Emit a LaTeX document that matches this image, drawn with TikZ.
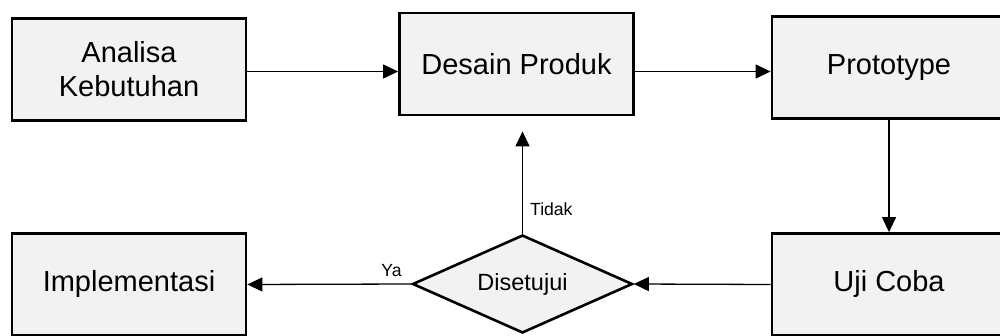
\documentclass[tikz,border=0pt]{standalone}
\usepackage{fontspec}
\setmainfont{Liberation Sans}
\usetikzlibrary{arrows.meta,shapes.geometric,calc}

\definecolor{isibox}{HTML}{F2F2F2}

\begin{document}
\begin{tikzpicture}[x=1pt,y=-1pt,->,>={Triangle[length=15pt,width=14pt]},line width=1.3pt,
  proses/.style={draw,fill=isibox,line width=2.8pt,minimum width=234pt,minimum height=102pt,
    inner sep=0pt,align=center,font=\fontsize{29}{34}\selectfont},
  putusan/.style={draw,fill=isibox,diamond,aspect=2.2,line width=2.6pt,minimum width=220pt,
    minimum height=98pt,inner sep=0pt,font=\fontsize{23.5}{28}\selectfont},
  lbl/.style={font=\fontsize{17.6}{20}\selectfont,inner sep=7pt}]
  \useasboundingbox (0,0) rectangle (1000,336);

  % Kotak (baris atas dan bawah)
  \node[proses] (analisa) at (129,69.5)  {Analisa\\Kebutuhan};
  \node[proses] (desain)  at (516.5,64)  {Desain Produk};
  \node[proses] (proto)   at (889,67.5)  {Prototype};
  \node[proses] (uji)     at (889,284.5) {Uji Coba};
  \node[proses] (impl)    at (129,284.5) {Implementasi};

  % Keputusan
  \node[putusan] (setuju) at (522.5,284) {Disetujui};

  % Alur baris atas
  \coordinate (atas) at (0,71.5);
  \draw (analisa.east |- atas) -- (desain.west |- atas);
  \draw (desain.east |- atas) -- (proto.west |- atas);

  % Prototype -> Uji Coba -> Disetujui
  \draw (proto.south) -- (uji.north);
  \draw (uji.west) -- (setuju.east);

  % Ya / Tidak
  \draw (setuju.west) -- node[lbl,pos=0.12,above] {Ya} (impl.east);
  \draw (setuju.north) -- node[lbl,pos=0.24,right] {Tidak} ($(setuju.north |- desain.south)+(0,15)$);
\end{tikzpicture}
\end{document}
